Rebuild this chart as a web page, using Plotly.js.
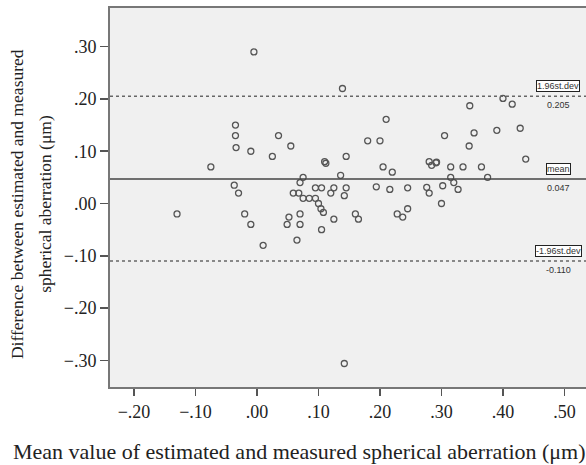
<!DOCTYPE html>
<html>
<head>
<meta charset="utf-8">
<script src="https://cdn.plot.ly/plotly-3.0.1.min.js"></script>
<style>html,body{margin:0;padding:0;background:#fff;}#chart{width:586px;height:465px;}</style>
</head>
<body>
<div id="chart"></div>
<script>
// Mean of estimated and measured spherical aberration (µm)
const meanValues = [
  -0.130, -0.075, -0.037, -0.030, -0.035, -0.035, -0.034, -0.020, -0.010, -0.010,
  -0.005, 0.010, 0.025, 0.035, 0.055, 0.052, 0.049, 0.059, 0.068, 0.070,
  0.075, 0.070, 0.070, 0.065, 0.075, 0.085, 0.095, 0.095, 0.105, 0.100,
  0.104, 0.108, 0.105, 0.110, 0.112, 0.120, 0.125, 0.125, 0.136, 0.139,
  0.142, 0.145, 0.145, 0.142, 0.160, 0.165, 0.180, 0.194, 0.200, 0.205,
  0.210, 0.216, 0.220, 0.228, 0.237, 0.245, 0.245, 0.276, 0.280, 0.280,
  0.284, 0.291, 0.292, 0.300, 0.302, 0.305, 0.315, 0.315, 0.320, 0.327,
  0.335, 0.345, 0.346, 0.353, 0.365, 0.375, 0.390, 0.400, 0.415, 0.428,
  0.437
];
// Difference between estimated and measured spherical aberration (µm)
const diffValues = [
  -0.020, 0.070, 0.035, 0.020, 0.150, 0.130, 0.107, -0.020, -0.040, 0.100,
  0.290, -0.080, 0.090, 0.130, 0.110, -0.026, -0.040, 0.020, 0.020, 0.040,
  0.050, -0.020, -0.040, -0.070, 0.010, 0.010, 0.010, 0.030, 0.030, 0.000,
  -0.010, -0.017, -0.050, 0.080, 0.077, 0.020, 0.030, -0.030, 0.054, 0.220,
  -0.306, 0.090, 0.030, 0.015, -0.020, -0.030, 0.120, 0.032, 0.120, 0.070,
  0.161, 0.027, 0.060, -0.020, -0.026, -0.010, 0.030, 0.031, 0.020, 0.080,
  0.073, 0.078, 0.079, 0.000, 0.034, 0.130, 0.070, 0.050, 0.040, 0.027,
  0.070, 0.110, 0.187, 0.135, 0.070, 0.050, 0.140, 0.201, 0.190, 0.144,
  0.085
];
// Reference lines: mean difference and limits of agreement
const refLineNames = ["1.96st.dev", "mean", "-1.96st.dev"];
const refLineValues = [0.205, 0.047, -0.110];
const refLineLabels = ["0.205", "0.047", "-0.110"];
const refLineDash = ["dot", "solid", "dot"];

const xTickVals = [-0.2, -0.1, 0, 0.1, 0.2, 0.3, 0.4, 0.5];
const xTickText = ["\u2212.20", "\u2212.10", ".00", ".10", ".20", ".30", ".40", ".50"];
const yTickVals = [-0.3, -0.2, -0.1, 0, 0.1, 0.2, 0.3];
const yTickText = ["\u2212.30", "\u2212.20", "\u2212.10", ".00", ".10", ".20", ".30"];

const serif = "Liberation Serif, Times New Roman, serif";
const sans = "Liberation Sans, Arial, sans-serif";

const trace = {
  type: "scatter",
  mode: "markers",
  x: meanValues,
  y: diffValues,
  marker: {symbol: "circle-open", size: 6, color: "#555555", line: {width: 1.3, color: "#555555"}},
  hoverinfo: "x+y",
  showlegend: false
};

const shapes = refLineValues.map((v, i) => ({
  type: "line", xref: "paper", yref: "y", x0: 0, x1: 1, y0: v, y1: v,
  line: {color: i === 1 ? "#444444" : "#666666", width: 1.5, dash: refLineDash[i]},
  layer: "above"
}));

const annotations = [];
refLineValues.forEach((v, i) => {
  annotations.push({
    xref: "paper", yref: "y", x: 0.942, y: v, yshift: 10, xanchor: "center", yanchor: "middle",
    text: refLineNames[i], showarrow: false,
    font: {family: sans, size: 9, color: "#333333"},
    bordercolor: "#222222", borderwidth: 1, borderpad: 0, bgcolor: "#ffffff"
  });
  annotations.push({
    xref: "paper", yref: "y", x: 0.942, y: v, yshift: -9, xanchor: "center", yanchor: "middle",
    text: refLineLabels[i], showarrow: false,
    font: {family: sans, size: 9, color: "#333333"}
  });
});
annotations.push({
  xref: "paper", yref: "paper", x: -0.195, y: 0.483, xanchor: "center", yanchor: "middle",
  textangle: -90, showarrow: false, text: "Difference between estimated and measured",
  font: {family: serif, size: 17.5, color: "#222222"}
});
annotations.push({
  xref: "paper", yref: "paper", x: -0.137, y: 0.483, xanchor: "center", yanchor: "middle",
  textangle: -90, showarrow: false, text: "spherical aberration (\u03bcm)",
  font: {family: serif, size: 17.5, color: "#222222"}
});
annotations.push({
  xref: "paper", yref: "paper", x: 0.399, y: -0.171, xanchor: "center", yanchor: "middle",
  showarrow: false, text: "Mean value of estimated and measured spherical aberration (\u03bcm)",
  font: {family: serif, size: 22, color: "#222222"}
});

const layout = {
  width: 586, height: 465,
  margin: {l: 110, r: 0, t: 8, b: 78, pad: 0},
  paper_bgcolor: "#ffffff",
  plot_bgcolor: "#f0f0f0",
  showlegend: false,
  xaxis: {
    range: [-0.239, 0.535], tickvals: xTickVals, ticktext: xTickText,
    showgrid: false, zeroline: false, showline: true, linecolor: "#777777", linewidth: 2, mirror: true,
    ticks: "outside", ticklen: 7, tickwidth: 1.5, tickcolor: "#555555",
    tickfont: {family: serif, size: 18, color: "#222222"}
  },
  yaxis: {
    range: [-0.351, 0.374], tickvals: yTickVals, ticktext: yTickText,
    showgrid: false, zeroline: false, showline: true, linecolor: "#777777", linewidth: 2,
    ticks: "outside", ticklen: 8, tickwidth: 1.5, tickcolor: "#555555",
    tickfont: {family: serif, size: 18, color: "#222222"}
  },
  shapes: shapes,
  annotations: annotations
};

Plotly.newPlot("chart", [trace], layout, {displayModeBar: false, staticPlot: true});
</script>
</body>
</html>
